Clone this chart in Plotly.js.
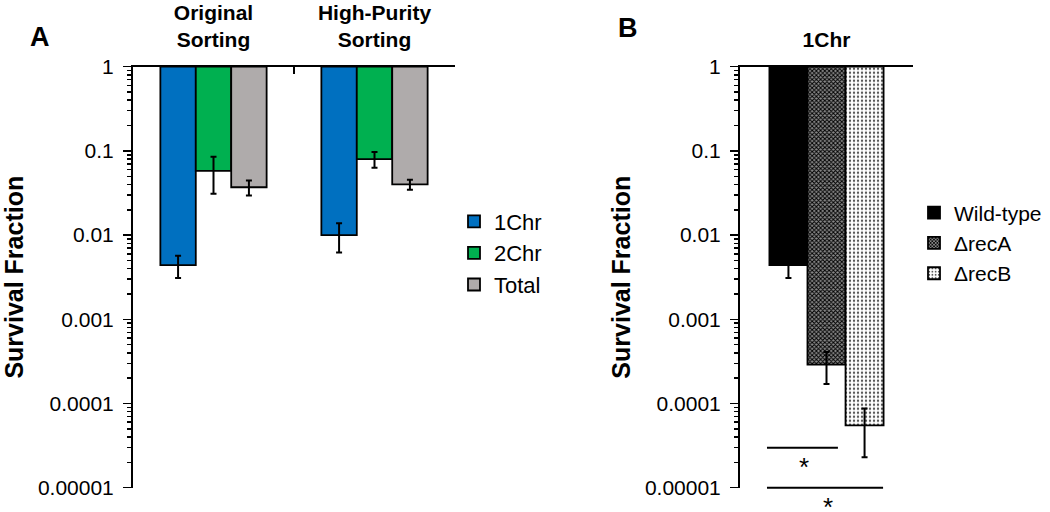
<!DOCTYPE html>
<html><head><meta charset="utf-8">
<script src="https://cdn.plot.ly/plotly-3.0.1.min.js"></script>
<style>html,body{margin:0;padding:0;background:#fff}#chart{width:1050px;height:512px}</style>
</head><body><div id="chart"></div>
<script>
// ---- Panel A data ----
const groupsA = ['Original<br>Sorting', 'High-Purity<br>Sorting'];
const chr1 = [0.0044, 0.0100];
const chr1Err = [0.0013, 0.0038];
const chr2 = [0.058, 0.080];
const chr2Err = [0.027, 0.017];
const total = [0.037, 0.040];
const totalErr = [0.0075, 0.0055];

// ---- Panel B data ----
const groupB = ['1Chr'];
const wildType = [0.0044];
const wildTypeErr = [0.0013];
const recA = [0.00029];
const recAErr = [0.00012];
const recB = [0.000055];
const recBErr = [0.000032];

const yTickVals = [1, 0.1, 0.01, 0.001, 0.0001, 0.00001];
const yTickText = ['1', '0.1', '0.01', '0.001', '0.0001', '0.00001'];

const FONT = 'Arial, "Liberation Sans", sans-serif';

// bars hang down from 1 to the value (base 1, negative size)
function hang(name, x, vals, errs, color, xa, ya, legend, pattern) {
  const m = {color: color, line: {color: '#000', width: 1.8}};
  if (pattern) m.pattern = pattern;
  return {
    type: 'bar', name: name, x: x,
    base: vals.map(() => 1), y: vals.map(v => v - 1),
    xaxis: xa, yaxis: ya, legend: legend, marker: m,
    error_y: {type: 'data', array: errs, visible: true, color: '#000', thickness: 2, width: 3},
    hoverinfo: 'skip'
  };
}

const traces = [
  hang('1Chr', groupsA, chr1, chr1Err, '#0070C0', 'x', 'y', 'legend'),
  hang('2Chr', groupsA, chr2, chr2Err, '#00B050', 'x', 'y', 'legend'),
  hang('Total', groupsA, total, totalErr, '#AFABAB', 'x', 'y', 'legend'),
  hang('Wild-type', groupB, wildType, wildTypeErr, '#000000', 'x2', 'y2', 'legend2'),
  hang('\u0394recA', groupB, recA, recAErr, '#ffffff', 'x2', 'y2', 'legend2',
       {shape: 'x', size: 3, solidity: 0.55, fgcolor: '#000', bgcolor: '#8a8a8a'}),
  hang('\u0394recB', groupB, recB, recBErr, '#ffffff', 'x2', 'y2', 'legend2',
       {shape: '.', size: 4, solidity: 0.28, fgcolor: '#555', bgcolor: '#fff'})
];

const yDomain = [24.3 / 512, 445.3 / 512];

function xAx(domain, anchor) {
  return {
    domain: domain, anchor: anchor, side: 'top', type: 'category',
    showline: true, linecolor: '#000', linewidth: 2,
    ticks: 'inside', ticklen: 7, tickwidth: 2, tickcolor: '#000', tickson: 'boundaries',
    ticklabelstandoff: 9,
    tickfont: {family: FONT, size: 21, color: '#000', weight: 'bold'},
    showgrid: false, zeroline: false, fixedrange: true
  };
}
function yAx(anchor) {
  return {
    domain: yDomain, anchor: anchor, type: 'log', range: [-5, 0],
    tickmode: 'array', tickvals: yTickVals, ticktext: yTickText,
    ticks: 'outside', ticklen: 8, tickwidth: 1.5, tickcolor: '#000',
    minor: {ticks: 'outside', ticklen: 4, tickwidth: 1.5, tickcolor: '#000', dtick: 'D1', showgrid: false},
    showline: true, linecolor: '#000', linewidth: 2,
    showgrid: false, zeroline: false, fixedrange: true,
    ticklabelstandoff: 5,
    tickfont: {family: FONT, size: 21, color: '#000'},
    title: {text: 'Survival Fraction', font: {family: FONT, size: 25, color: '#000', weight: 'bold'}, standoff: 7}
  };
}

const layout = {
  width: 1050, height: 512,
  margin: {l: 0, r: 0, t: 0, b: 0},
  paper_bgcolor: '#fff', plot_bgcolor: 'rgba(0,0,0,0)',
  barmode: 'group', bargap: 0.34, bargroupgap: 0,
  font: {family: FONT, color: '#000', size: 21},
  showlegend: true,
  xaxis: xAx([133 / 1050, 455 / 1050], 'y'),
  yaxis: yAx('x'),
  xaxis2: xAx([740 / 1050, 913 / 1050], 'y2'),
  yaxis2: yAx('x2'),
  legend: {x: 454 / 1050, y: (512 - 253) / 512, xanchor: 'left', yanchor: 'middle',
           font: {family: FONT, size: 22, color: '#000'}, bgcolor: 'rgba(0,0,0,0)', borderwidth: 0},
  legend2: {x: 914 / 1050, y: (512 - 243) / 512, xanchor: 'left', yanchor: 'middle',
            font: {family: FONT, size: 21, color: '#000'}, bgcolor: 'rgba(0,0,0,0)', borderwidth: 0},
  shapes: [
    {type: 'line', xref: 'x2 domain', yref: 'y2 domain', x0: 0.156, x1: 0.566, y0: 0.095, y1: 0.095,
     line: {color: '#000', width: 2}},
    {type: 'line', xref: 'x2 domain', yref: 'y2 domain', x0: 0.156, x1: 0.827, y0: 0, y1: 0,
     line: {color: '#000', width: 2}}
  ],
  annotations: [
    {text: 'A', xref: 'paper', yref: 'paper', x: 40 / 1050, y: (512 - 37) / 512, showarrow: false,
     xanchor: 'center', yanchor: 'middle', font: {family: FONT, size: 27, color: '#000', weight: 'bold'}},
    {text: 'B', xref: 'paper', yref: 'paper', x: 628 / 1050, y: (512 - 28) / 512, showarrow: false,
     xanchor: 'center', yanchor: 'middle', font: {family: FONT, size: 27, color: '#000', weight: 'bold'}},
    {text: '*', xref: 'x2 domain', yref: 'y2 domain', x: 0.37, y: 0.05, showarrow: false,
     xanchor: 'center', yanchor: 'middle', font: {family: FONT, size: 26, color: '#000'}},
    {text: '*', xref: 'x2 domain', yref: 'y2 domain', x: 0.509, y: -0.045, showarrow: false,
     xanchor: 'center', yanchor: 'middle', font: {family: FONT, size: 26, color: '#000'}}
  ]
};

Plotly.newPlot('chart', traces, layout, {displayModeBar: false, staticPlot: true});
</script>
</body></html>
